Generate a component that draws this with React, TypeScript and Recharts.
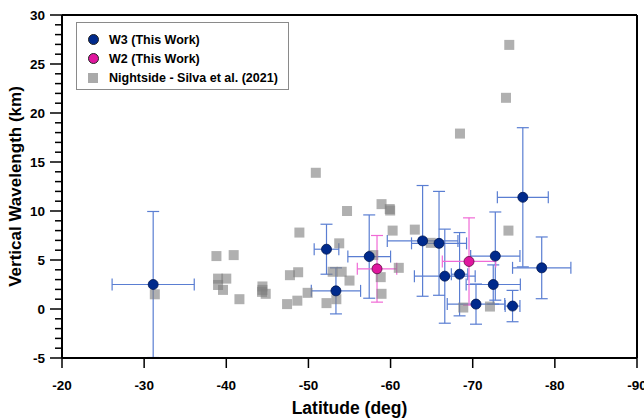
import React from "react";
import {
  ScatterChart,
  Scatter,
  XAxis,
  YAxis,
  ErrorBar,
  ReferenceLine,
  Legend,
} from "recharts";

// W3 (This Work)
const w3Lat = [-31.1, -52.2, -53.35, -57.4, -63.9, -65.9, -66.6, -68.4, -70.4, -72.75, -72.5, -74.85, -76.1, -78.4];
const w3Val = [2.5, 6.1, 1.85, 5.35, 6.95, 6.7, 3.35, 3.55, 0.5, 5.4, 2.5, 0.3, 11.4, 4.2];
const w3LatErr = [5.0, 1.5, 3.0, 2.6, 4.3, 3.35, 3.7, 1.0, 3.5, 3.0, 3.3, 0.9, 3.1, 3.55];
const w3ValErr = [7.45, 2.55, 2.35, 4.25, 5.65, 5.3, 4.8, 4.25, 2.05, 4.5, 2.0, 1.6, 7.1, 3.15];

// W2 (This Work)
const w2Lat = [-58.35, -69.55];
const w2Val = [4.1, 4.85];
const w2LatErr = [2.4, 3.25];
const w2ValErr = [3.4, 4.45];

// Nightside - Silva et al. (2021)
const silvaLat = [
  -31.3, -38.8, -40.9, -39.0, -40.0, -39.0, -39.6, -41.6, -44.4, -44.35, -44.8, -44.4,
  -47.4, -48.65, -47.75, -48.75, -48.9, -49.9, -50.9, -54.7, -53.75, -52.95, -54.05,
  -55.0, -52.2, -53.4, -58.9, -59.9, -59.95, -60.25, -62.95, -57.9, -58.8, -61.0,
  -58.9, -64.9, -74.35, -68.85, -72.1, -68.45, -74.45, -74.05,
];
const silvaVal = [
  1.5, 5.4, 5.5, 3.1, 3.1, 2.45, 1.95, 1.0, 2.3, 1.75, 1.55, 1.95,
  0.5, 0.85, 3.45, 3.75, 7.8, 1.65, 13.9, 10.0, 6.7, 3.8, 3.8,
  2.9, 0.6, 1.0, 10.7, 10.2, 10.05, 8.0, 8.1, 5.5, 3.25, 4.2,
  1.55, 6.75, 8.0, 0.15, 0.25, 17.9, 26.95, 21.55,
];

const xTicks = [-20, -30, -40, -50, -60, -70, -80, -90];
const yTicks = [
  -5, -4, -3, -2, -1, 0, 1, 2, 3, 4, 5, 6, 7, 8, 9, 10, 11, 12, 13, 14, 15, 16, 17,
  18, 19, 20, 21, 22, 23, 24, 25, 26, 27, 28, 29, 30,
];

const legendItems = [
  { name: "W3 (This Work)", kind: "circle", color: "#002a8c" },
  { name: "W2 (This Work)", kind: "circle", color: "#e0169e" },
  { name: "Nightside - Silva et al. (2021)", kind: "square", color: "#aaaaaa" },
];

const w3Data = w3Lat.map((lat, i) => ({ lat, val: w3Val[i], ex: w3LatErr[i], ey: w3ValErr[i] }));
const w2Data = w2Lat.map((lat, i) => ({ lat, val: w2Val[i], ex: w2LatErr[i], ey: w2ValErr[i] }));
const silvaData = silvaLat.map((lat, i) => ({ lat, val: silvaVal[i] }));

const FONT = '"Liberation Sans", Arial, sans-serif';

const YTick = ({ x, y, payload }: any) => {
  const major = payload.value % 5 === 0;
  const len = major ? 12 : 7;
  return (
    <g>
      <line x1={x - len} x2={x} y1={y} y2={y} stroke="#000" strokeWidth={1.5} />
      {major && (
        <text
          x={x - len - 5}
          y={y}
          dy="0.36em"
          textAnchor="end"
          fontFamily={FONT}
          fontWeight="bold"
          fontSize={13.5}
          fill="#000"
        >
          {payload.value}
        </text>
      )}
    </g>
  );
};

const circleShape = (fill: string, stroke: string) => (p: any) =>
  <circle cx={p.cx} cy={p.cy} r={5} fill={fill} stroke={stroke} strokeWidth={0.8} />;

const squareShape = (p: any) =>
  <rect x={p.cx - 5} y={p.cy - 5} width={10} height={10} fill="#808080" fillOpacity={0.62} />;

const LegendBox = () => (
  <div
    style={{
      boxSizing: "border-box",
      width: 213,
      height: 68,
      border: "1px solid #8a8a8a",
      background: "#fff",
      paddingTop: 7,
      fontFamily: FONT,
      fontWeight: "bold",
      fontSize: 12.5,
      color: "#000",
    }}
  >
    {legendItems.map((it) => (
      <div key={it.name} style={{ display: "flex", alignItems: "center", height: 19 }}>
        <div style={{ width: 32, display: "flex", justifyContent: "center" }}>
          <div
            style={{
              width: it.kind === "circle" ? 11 : 10,
              height: it.kind === "circle" ? 11 : 10,
              borderRadius: it.kind === "circle" ? "50%" : 0,
              background: it.color,
              border: it.kind === "circle" ? "0.8px solid #222" : "none",
              boxSizing: "border-box",
            }}
          />
        </div>
        <span style={{ whiteSpace: "nowrap" }}>{it.name}</span>
      </div>
    ))}
  </div>
);

export default function App() {
  return (
    <div style={{ position: "absolute", left: 0, top: 0, background: "#fff" }}>
      <ScatterChart width={644} height={419} margin={{ top: 15, right: 7, left: 0, bottom: 0 }}>
        <XAxis
          type="number"
          dataKey="lat"
          domain={[-90, -20]}
          reversed
          ticks={xTicks}
          interval={0}
          height={61}
          tickSize={10}
          tickMargin={12}
          axisLine={{ stroke: "#000", strokeWidth: 2 }}
          tickLine={{ stroke: "#000", strokeWidth: 1.5 }}
          tick={{ fill: "#000", fontFamily: FONT, fontWeight: "bold", fontSize: 13.5 }}
          label={{
            value: "Latitude (deg)",
            position: "insideBottom",
            offset: 5,
            style: { fill: "#000", fontFamily: FONT, fontWeight: "bold", fontSize: 17.5 },
          }}
        />
        <YAxis
          type="number"
          dataKey="val"
          domain={[-5, 30]}
          ticks={yTicks}
          interval={0}
          width={62}
          tickSize={0}
          tickMargin={0}
          tickLine={false}
          axisLine={{ stroke: "#000", strokeWidth: 2 }}
          tick={<YTick />}
          label={{
            value: "Vertical Wavelength (km)",
            angle: -90,
            position: "insideLeft",
            offset: 15,
            style: { textAnchor: "middle", fill: "#000", fontFamily: FONT, fontWeight: "bold", fontSize: 17 },
          }}
        />
        <ReferenceLine y={30} stroke="#000" strokeWidth={2} />
        <ReferenceLine x={-90} stroke="#000" strokeWidth={2} />
        <Legend
          layout="vertical"
          align="center"
          verticalAlign="middle"
          content={<LegendBox />}
          wrapperStyle={{ left: 76, top: 22, width: 213, height: 68 }}
        />
        <Scatter
          name="Nightside - Silva et al. (2021)"
          data={silvaData}
          shape={squareShape}
          isAnimationActive={false}
        />
        <Scatter
          name="W3 (This Work)"
          data={w3Data}
          shape={circleShape("#002a8c", "#001650")}
          isAnimationActive={false}
        >
          <ErrorBar dataKey="ex" direction="x" width={6} stroke="#5a7ed2" strokeWidth={1.2} isAnimationActive={false} />
          <ErrorBar dataKey="ey" direction="y" width={6} stroke="#5a7ed2" strokeWidth={1.2} isAnimationActive={false} />
        </Scatter>
        <Scatter
          name="W2 (This Work)"
          data={w2Data}
          shape={circleShape("#e0169e", "#5a0a40")}
          isAnimationActive={false}
        >
          <ErrorBar dataKey="ex" direction="x" width={6} stroke="#f06ad6" strokeWidth={1.2} isAnimationActive={false} />
          <ErrorBar dataKey="ey" direction="y" width={6} stroke="#f06ad6" strokeWidth={1.2} isAnimationActive={false} />
        </Scatter>
      </ScatterChart>
    </div>
  );
}
